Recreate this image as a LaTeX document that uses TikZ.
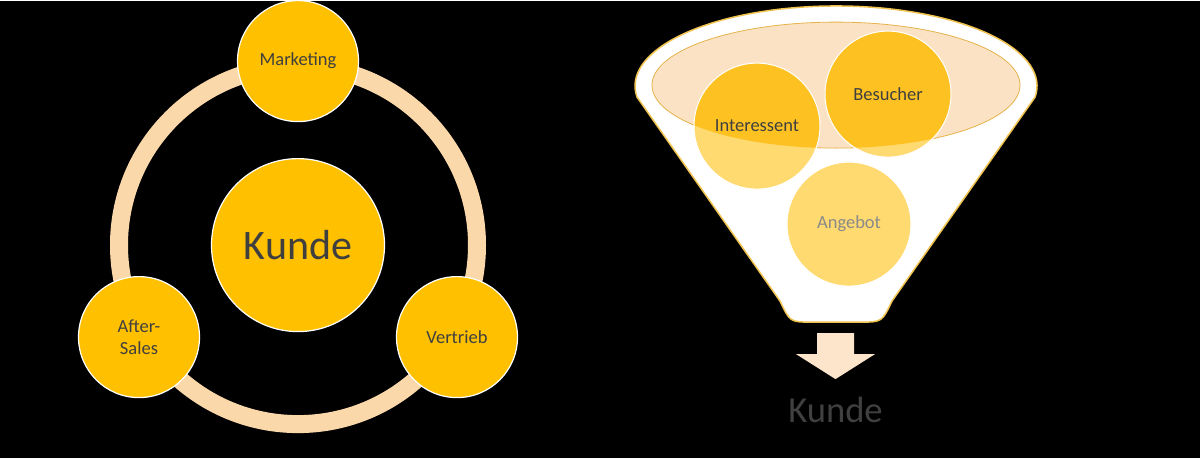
\documentclass[tikz,border=0pt]{standalone}
\usepackage{fontspec}
\setmainfont{Carlito}
\usetikzlibrary{positioning}
\definecolor{kgold}{HTML}{FFC000}
\definecolor{kring}{HTML}{FAD8AA}
\definecolor{ktext}{HTML}{3F3F3F}
\definecolor{krim}{HTML}{F0C350}
\definecolor{kbowl}{HTML}{FBE2C4}
\definecolor{kbowlline}{HTML}{E6B34A}
\definecolor{kdeep}{HTML}{FDC222}
\definecolor{klight}{HTML}{FFDA70}
\definecolor{karrow}{HTML}{FCE5CB}
\definecolor{kdim}{HTML}{404040}
\definecolor{kgrey}{HTML}{8A8A8A}

\begin{document}
\begin{tikzpicture}[x=1pt, y=-1pt, stage/.style={circle, draw=white, line width=1.2pt, fill=kgold, minimum size=121pt, inner sep=0pt, align=center, text=ktext, font=\fontsize{18.5}{21.5}\selectfont}, hub/.style={stage, minimum size=173pt, font=\fontsize{42}{48}\selectfont}, ring/.style={draw=kring, line width=18pt}, funnel/.style={fill=white, draw=krim, line width=1.5pt}, bowl/.style={fill=kbowl, draw=kbowlline, line width=0.8pt}, lead/.style={circle, draw=white, line width=1pt, fill=klight, minimum size=126pt, inner sep=0pt, text=ktext, font=\fontsize{18.5}{21.5}\selectfont, path picture={\fill[kdeep] (bowlc) ellipse[x radius=184pt, y radius=63pt];}}]

  \fill[black] (0,0) rectangle (1200,457);

  \node[hub] (kunde) at (298,244) {Kunde};
  \draw[ring] (kunde.center) circle[radius=179pt];
  \node[stage] (mark) at (298,60) {Marketing};
  \node[stage] (vert) at (457,336) {Vertrieb};
  \node[stage] (after) at (139,336) {After-\\Sales};

  \draw[funnel] (637,96) arc[start angle=172, end angle=368, x radius=201, y radius=80] -- (892,300) .. controls (882,321) .. (860,321) -- (812,321) .. controls (790,321) .. (780,300) -- cycle;
  \coordinate (bowlc) at (836,84);
  \draw[bowl] (bowlc) ellipse[x radius=184pt, y radius=63pt];

  \node[lead] (inter) at (757,125) {Interessent};
  \node[lead] (besu) at (888,93) {Besucher};
  \node[lead, text=kgrey, minimum size=124pt] (angb) at (849,223) {Angebot};

  \coordinate (drop) at (835.5,332);
  \coordinate (tip) at (835.5,378);
  \fill[karrow] (drop) ++(-18.5,0) -- ++(37,0) -- ++(0,21) -- ++(21,0) -- (tip) -- ++(-39.5,-25) -- ++(21,0) -- cycle;
  \node[text=kdim, font=\fontsize{36.6}{42}\selectfont, below=14pt of tip] (kunde2) {Kunde};
\end{tikzpicture}
\end{document}
